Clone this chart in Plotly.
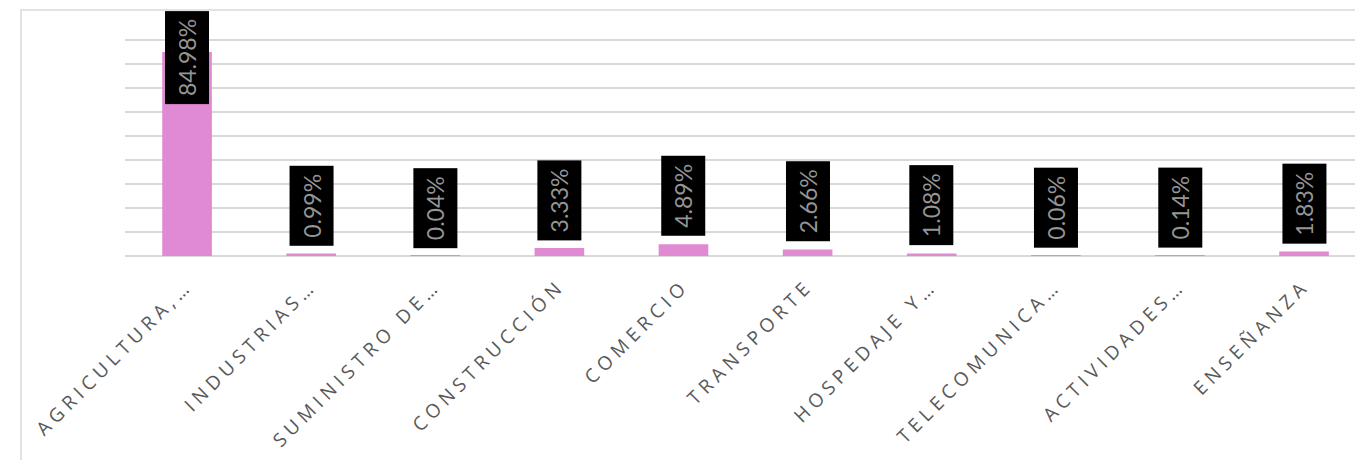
import plotly.graph_objects as go

# sectores (etiquetas tal como aparecen, truncadas)
sectores = ["AGRICULTURA,…", "INDUSTRIAS…", "SUMINISTRO DE…", "CONSTRUCCIÓN", "COMERCIO",
            "TRANSPORTE", "HOSPEDAJE Y…", "TELECOMUNICA…", "ACTIVIDADES…", "ENSEÑANZA"]
porcentajes = [84.98, 0.99, 0.04, 3.33, 4.89, 2.66, 1.08, 0.06, 0.14, 1.83]
grid_vals = list(range(0, 100, 10))

# page body has an 8px margin, so the figure is a bit smaller than the window
W, H = 1355, 452
L, T, B = 117, 8, 204
plot_w = W - L
plot_h = H - T - B

fig = go.Figure()
fig.add_trace(go.Bar(
    x=sectores, y=porcentajes,
    marker=dict(color="#E08AD4", line=dict(width=0)),
    hoverinfo="x+y",
))

# data labels: black boxes, rotated text
for cat, val in zip(sectores, porcentajes):
    big = val > 80
    fig.add_annotation(
        x=cat, y=val, xref="x", yref="y",
        text=f"{val:.2f}%",
        textangle=-90,
        showarrow=False,
        font=dict(family="Lato", size=23, color="#959595"),
        bgcolor="#000000",
        borderpad=8, borderwidth=0,
        yanchor="middle" if big else "bottom",
        yshift=-6 if big else 8,
    )

# chart area border (only left and top edges visible in window)
fig.add_shape(type="rect", xref="paper", yref="paper",
              x0=(13 - L) / plot_w, x1=1.2,
              y0=-1.5, y1=(H - B - 2) / plot_h,
              line=dict(color="#d9d9d9", width=1.5), layer="below")

fig.update_layout(
    width=W, height=H,
    margin=dict(l=L, r=0, t=T, b=B),
    paper_bgcolor="white", plot_bgcolor="white",
    showlegend=False,
    bargap=0.6,
    xaxis=dict(
        range=[-0.5, 9.475],
        tickangle=-45,
        tickfont=dict(family="Open Sans", size=19, color="#595959"),
        showline=False, showgrid=False, ticks="",
        ticklabelstandoff=14,
    ),
    yaxis=dict(
        range=[0, 100],
        tickvals=grid_vals,
        showticklabels=False,
        showgrid=True, gridcolor="#d9d9d9", gridwidth=1.5,
        zeroline=True, zerolinecolor="#d9d9d9", zerolinewidth=1.5,
        showline=False,
    ),
)

spacing_js = """
var gd = document.getElementById('{plot_id}');
function spread() {
  gd.querySelectorAll('.xtick text').forEach(function (t) {
    t.style.letterSpacing = '5px';
  });
}
spread();
gd.on('plotly_afterplot', spread);
"""

fig.write_html("out.html", post_script=spacing_js)
